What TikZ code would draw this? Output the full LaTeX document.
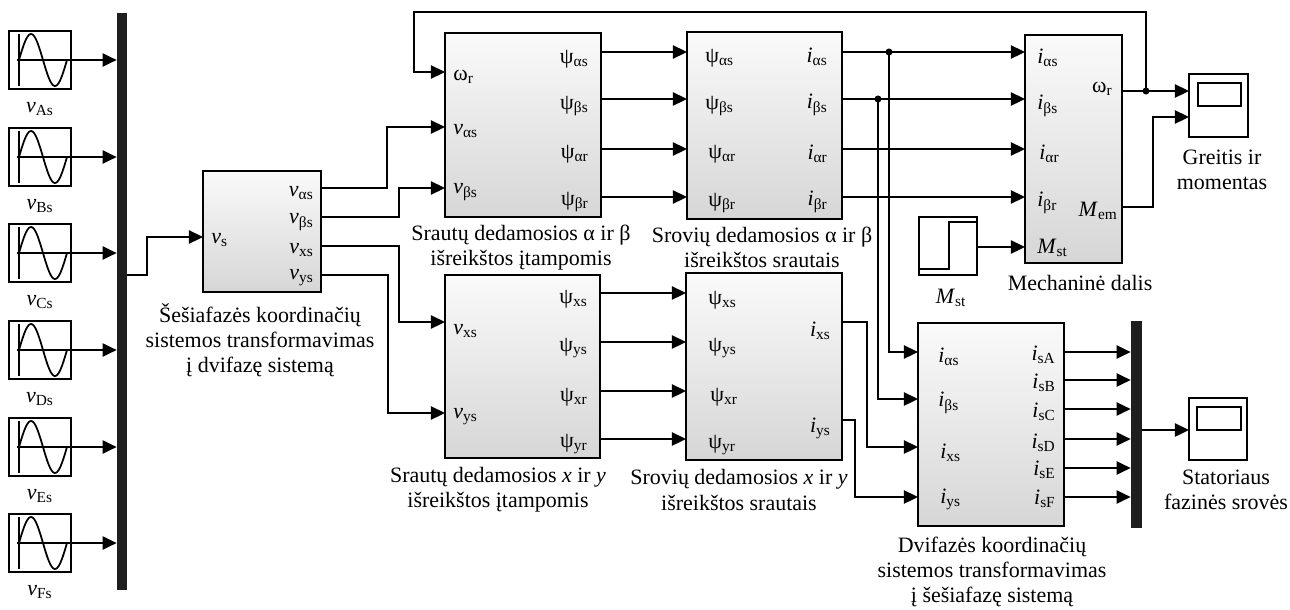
\documentclass[tikz,border=0pt]{standalone}
\usepackage{fontspec}
\setmainfont{Liberation Serif}
\usetikzlibrary{arrows.meta}

\begin{document}
\begin{tikzpicture}[x=0.02cm, y=-0.02cm,
  font=\fontsize{12.5}{14.3}\selectfont,
  wire/.style={line width=1pt},
  arr/.style={wire, -{Triangle[length=8pt, width=7.5pt]}},
  blk/.style={draw, line width=0.9pt, inner sep=0pt, top color=white!98!black, bottom color=white!84!black},
  sbox/.style={draw, line width=0.9pt, inner sep=0pt, fill=white},
  bus/.style={fill=black!88, inner sep=0pt},
  lbl/.style={inner sep=0pt},
  captxt/.style={align=center, inner sep=0pt}]
\useasboundingbox (0,0) rectangle (1290,609);

% sine sources and input bus
\node[bus, minimum width=0.2cm, minimum height=11.54cm] (bus1) at (122,301.5){};
\foreach \n/\y/\p in {1/60/A, 2/157/B, 3/253/C, 4/350/D, 5/447/E, 6/543/F}{
  \node[sbox, minimum width=1.24cm, minimum height=1.16cm] (src\n) at (40,\y){};
  \draw[line width=0.8pt] (19,\y-26) -- (19,\y+26);
  \draw[line width=0.8pt] (17,\y) -- (src\n.east);
  \draw[line width=1pt] plot[domain=0:48, samples=40] ({19+\x},{\y-26*sin(7.5*\x)});
  \node (lsrc\n) at (40,\y+49){\textit{v}\textsubscript{\p s}};
  \draw[arr] (src\n.east) -- (src\n.east -| bus1.west);
}

% blocks
\node[blk, minimum width=2.36cm, minimum height=2.42cm] (tr) at (262,231.5){};
\node[blk, minimum width=3.12cm, minimum height=3.68cm] (fab) at (523,125){};
\node[blk, minimum width=3.10cm, minimum height=3.74cm] (cab) at (764.5,125.5){};
\node[blk, minimum width=1.94cm, minimum height=4.56cm] (mech) at (1073.5,149){};
\node[blk, minimum width=3.10cm, minimum height=3.66cm] (fxy) at (522.5,366.5){};
\node[blk, minimum width=3.12cm, minimum height=3.74cm] (cxy) at (764,366.5){};
\node[blk, minimum width=2.92cm, minimum height=4.06cm] (inv) at (991,424.5){};
\node[bus, minimum width=0.22cm, minimum height=4.14cm] (bus2) at (1136.5,424.5){};

% step and scopes
\node[sbox, minimum width=1.16cm, minimum height=1.16cm] (stp) at (948,246){};
\draw[line width=0.9pt] (919,269) -- (949,269) -- (949,222) -- (977,222);
\node[sbox, minimum width=1.18cm, minimum height=1.26cm] (sc1) at (1218.5,105.5){};
\draw[line width=0.9pt] (1198,83) rectangle (1241,106);
\node[sbox, minimum width=1.16cm, minimum height=1.24cm] (sc2) at (1218,429){};
\draw[line width=0.9pt] (1197,407) rectangle (1241,430);

% ports
\coordinate (b1out) at (127,275);
\coordinate (tr-in) at (203,237);
\foreach \k/\y in {1/188, 2/217, 3/246, 4/275}{\coordinate (tr-o\k) at (321,\y);}
\coordinate (fa-w) at (445,72);
\coordinate (fa-i1) at (445,127);
\coordinate (fa-i2) at (445,188);
\foreach \k/\y in {1/52, 2/99, 3/149, 4/197}{
  \coordinate (fa-o\k) at (601,\y);
  \coordinate (ca-i\k) at (687,\y);
  \coordinate (ca-o\k) at (842,\y);
  \coordinate (me-i\k) at (1025,\y);
}
\coordinate (me-i5) at (1025,247);
\coordinate (me-w) at (1122,91);
\coordinate (me-m) at (1122,207);
\coordinate (fx-i1) at (445,322);
\coordinate (fx-i2) at (445,413);
\foreach \k/\y in {1/293, 2/342, 3/391, 4/439}{
  \coordinate (fx-o\k) at (600,\y);
  \coordinate (cx-i\k) at (686,\y);
}
\coordinate (cx-o1) at (842,322);
\coordinate (cx-o2) at (842,420);
\foreach \k/\y in {1/352, 2/399, 3/447, 4/497}{\coordinate (iv-i\k) at (918,\y);}
\foreach \k/\y in {1/352, 2/380, 3/409, 4/439, 5/468, 6/497}{\coordinate (iv-o\k) at (1064,\y);}
\coordinate (b2out) at (1142,430);
\coordinate (sc1-i1) at (1189,91);
\coordinate (sc1-i2) at (1189,117);
\coordinate (sc2-i) at (1189,430);
\coordinate (stp-o) at (977,247);
\coordinate (jw) at (1146,91);
\coordinate (ja) at (889,52);
\coordinate (jb) at (878,99);

% connectors
\draw[arr] (b1out) -- ++(20,0) |- (tr-in);
\draw[arr] (tr-o1) -- ++(66,0) |- (fa-i1);
\draw[arr] (tr-o2) -- ++(78,0) |- (fa-i2);
\draw[arr] (tr-o3) -- ++(78,0) |- (fx-i1);
\draw[arr] (tr-o4) -- ++(67,0) |- (fx-i2);
\foreach \k in {1,...,4}{
  \draw[arr] (fa-o\k) -- (ca-i\k);
  \draw[arr] (ca-o\k) -- (me-i\k);
  \draw[arr] (fx-o\k) -- (cx-i\k);
}
\draw[arr] (stp-o) -- (me-i5);
\draw[arr] (me-w) -- (sc1-i1);
\draw[arr] (jw) |- (414,12) |- (fa-w);
\draw[arr] (me-m) -- ++(31,0) |- (sc1-i2);
\draw[arr] (ja) |- (iv-i1);
\draw[arr] (jb) |- (iv-i2);
\draw[arr] (cx-o1) -- ++(25,0) |- (iv-i3);
\draw[arr] (cx-o2) -- ++(13,0) |- (iv-i4);
\foreach \k in {1,...,6}{\draw[arr] (iv-o\k) -- (iv-o\k -| bus2.west);}
\draw[arr] (b2out) -- (sc2-i);
\fill (jw) circle[radius=2pt];
\fill (ja) circle[radius=2pt];
\fill (jb) circle[radius=2pt];

% port labels
\node[lbl, anchor=west] (tr-l0) at (211,240){\textit{v}\textsubscript{s}};
\node[lbl, anchor=east] (tr-l1) at (314,193){\textit{v}\textsubscript{αs}};
\node[lbl, anchor=east] (tr-l2) at (314,222){\textit{v}\textsubscript{βs}};
\node[lbl, anchor=east] (tr-l3) at (314,250){\textit{v}\textsubscript{xs}};
\node[lbl, anchor=east] (tr-l4) at (314,278){\textit{v}\textsubscript{ys}};

\node[lbl, anchor=west] (fa-lw) at (453,77){ω\textsubscript{r}};
\node[lbl, anchor=west] (fa-l1) at (453,131){\textit{v}\textsubscript{αs}};
\node[lbl, anchor=west] (fa-l2) at (453,192){\textit{v}\textsubscript{βs}};
\node[lbl, anchor=east] (fa-r1) at (589,59){ψ\textsubscript{αs}};
\node[lbl, anchor=east] (fa-r2) at (589,106){ψ\textsubscript{βs}};
\node[lbl, anchor=east] (fa-r3) at (589,154){ψ\textsubscript{αr}};
\node[lbl, anchor=east] (fa-r4) at (589,202){ψ\textsubscript{βr}};

\node[lbl, anchor=west] (ca-l1) at (705,58){ψ\textsubscript{αs}};
\node[lbl, anchor=west] (ca-l2) at (705,106){ψ\textsubscript{βs}};
\node[lbl, anchor=west] (ca-l3) at (708,154){ψ\textsubscript{αr}};
\node[lbl, anchor=west] (ca-l4) at (708,203){ψ\textsubscript{βr}};
\node[lbl, anchor=east] (ca-r1) at (828,57){\textit{i}\textsubscript{αs}};
\node[lbl, anchor=east] (ca-r2) at (828,105){\textit{i}\textsubscript{βs}};
\node[lbl, anchor=east] (ca-r3) at (828,154){\textit{i}\textsubscript{αr}};
\node[lbl, anchor=east] (ca-r4) at (828,202){\textit{i}\textsubscript{βr}};

\node[lbl, anchor=west] (me-l1) at (1037,58){\textit{i}\textsubscript{αs}};
\node[lbl, anchor=west] (me-l2) at (1037,106){\textit{i}\textsubscript{βs}};
\node[lbl, anchor=west] (me-l3) at (1039,154){\textit{i}\textsubscript{αr}};
\node[lbl, anchor=west] (me-l4) at (1037,203){\textit{i}\textsubscript{βr}};
\node[lbl, anchor=west] (me-l5) at (1037,248){\textit{M}\textsubscript{st}};
\node[lbl, anchor=east] (me-rw) at (1113,89){ω\textsubscript{r}};
\node[lbl, anchor=east] (me-rm) at (1118,211){\textit{M}\textsubscript{em}};

\node[lbl, anchor=west] (fx-l1) at (453,331){\textit{v}\textsubscript{xs}};
\node[lbl, anchor=west] (fx-l2) at (453,417){\textit{v}\textsubscript{ys}};
\node[lbl, anchor=east] (fx-r1) at (588,299){ψ\textsubscript{xs}};
\node[lbl, anchor=east] (fx-r2) at (588,348){ψ\textsubscript{ys}};
\node[lbl, anchor=east] (fx-r3) at (588,397){ψ\textsubscript{xr}};
\node[lbl, anchor=east] (fx-r4) at (588,444){ψ\textsubscript{yr}};

\node[lbl, anchor=west] (cx-l1) at (708,300){ψ\textsubscript{xs}};
\node[lbl, anchor=west] (cx-l2) at (708,348){ψ\textsubscript{ys}};
\node[lbl, anchor=west] (cx-l3) at (710,397){ψ\textsubscript{xr}};
\node[lbl, anchor=west] (cx-l4) at (708,445){ψ\textsubscript{yr}};
\node[lbl, anchor=east] (cx-r1) at (831,331){\textit{i}\textsubscript{xs}};
\node[lbl, anchor=east] (cx-r2) at (831,428){\textit{i}\textsubscript{ys}};

\node[lbl, anchor=west] (iv-l1) at (938,357){\textit{i}\textsubscript{αs}};
\node[lbl, anchor=west] (iv-l2) at (938,403){\textit{i}\textsubscript{βs}};
\node[lbl, anchor=west] (iv-l3) at (940,453){\textit{i}\textsubscript{xs}};
\node[lbl, anchor=west] (iv-l4) at (940,499){\textit{i}\textsubscript{ys}};
\node[lbl, anchor=east] (iv-r1) at (1056,355){\textit{i}\textsubscript{sA}};
\node[lbl, anchor=east] (iv-r2) at (1056,383){\textit{i}\textsubscript{sB}};
\node[lbl, anchor=east] (iv-r3) at (1056,412){\textit{i}\textsubscript{sC}};
\node[lbl, anchor=east] (iv-r4) at (1056,443){\textit{i}\textsubscript{sD}};
\node[lbl, anchor=east] (iv-r5) at (1056,470){\textit{i}\textsubscript{sE}};
\node[lbl, anchor=east] (iv-r6) at (1056,499){\textit{i}\textsubscript{sF}};

% captions
\node[captxt] (trcap) at (260,340){Šešiafazės koordinačių\\sistemos transformavimas\\į dvifazę sistemą};
\node[captxt] (facap) at (521,247.5){Srautų dedamosios α ir β\\išreikštos įtampomis};
\node[captxt] (cacap) at (762,247.5){Srovių dedamosios α ir β\\išreikštos srautais};
\node[captxt] (mecap) at (1080,283){Mechaninė dalis};
\node[captxt] (stcap) at (951,298){\textit{M}\textsubscript{st}};
\node[captxt] (sc1cap) at (1222,170){Greitis ir\\momentas};
\node[captxt] (fxcap) at (498,490){Srautų dedamosios \textit{x} ir \textit{y}\\išreikštos įtampomis};
\node[captxt] (cxcap) at (739,490){Srovių dedamosios \textit{x} ir \textit{y}\\išreikštos srautais};
\node[captxt] (ivcap) at (992,572){Dvifazės koordinačių\\sistemos transformavimas\\į šešiafazę sistemą};
\node[captxt] (sc2cap) at (1226,490){Statoriaus\\fazinės srovės};
\end{tikzpicture}
\end{document}
